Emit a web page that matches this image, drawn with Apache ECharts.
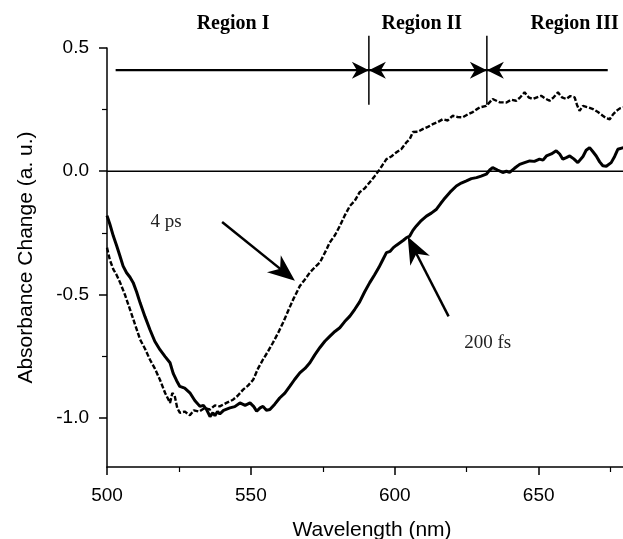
<!DOCTYPE html>
<html>
<head>
<meta charset="utf-8">
<script src="https://cdn.jsdelivr.net/npm/echarts@6/dist/echarts.min.js"></script>
<style>html,body{margin:0;padding:0;background:#fff}#c{width:623px;height:539px}</style>
</head>
<body>
<div id="c"></div>
<script>
// ---- data ----
const xTickLabels = [500, 550, 600, 650];
const xMinorTicks = [525, 575, 625, 675];
const yTickLabels = [-1.0, -0.5, 0.0, 0.5];
const yMinorTicks = [-0.75, -0.25, 0.25];

const series200fs = [
  [500,-0.18],[501,-0.215],[502.2,-0.263],[503.3,-0.3],[504.5,-0.344],[505.6,-0.385],[506.8,-0.412],
  [508,-0.43],[509.1,-0.452],[510.3,-0.49],[511.5,-0.534],[513.2,-0.59],[514.9,-0.642],
  [516.6,-0.69],[518.4,-0.724],[520.2,-0.752],[521.9,-0.777],[523,-0.82],[524.2,-0.85],[525.3,-0.873],
  [527,-0.88],[528.8,-0.899],[530.5,-0.93],[532.3,-0.954],[533.5,-0.95],
  [534.6,-0.967],[535.8,-0.995],[536.8,-0.98],[537.5,-0.992],[538.4,-0.975],[539.2,-0.985],[540.5,-0.97],
  [542.7,-0.96],[544.4,-0.955],[546.2,-0.94],[548,-0.95],
  [549.7,-0.94],[551,-0.955],[552,-0.974],[553.2,-0.96],[554.2,-0.954],[555.4,-0.97],[556.6,-0.967],
  [558.3,-0.945],[560,-0.92],[561.8,-0.9],[563.5,-0.873],[565.2,-0.845],
  [567,-0.818],[568.8,-0.8],[570.5,-0.777],[572.2,-0.745],[574,-0.715],[575.7,-0.69],[577.4,-0.67],
  [579.2,-0.65],[580.9,-0.635],[582.6,-0.61],[584.4,-0.588],[586.1,-0.56],
  [587.8,-0.53],[589.5,-0.49],[591.3,-0.452],[593,-0.42],[594.5,-0.39],[595.8,-0.36],[597.1,-0.33],
  [598.4,-0.325],[599.5,-0.31],[600.6,-0.3],[601.8,-0.29],[603,-0.28],[604,-0.27],[605.2,-0.263],
  [606.3,-0.24],[607.5,-0.222],[609.2,-0.2],[611,-0.182],[612.7,-0.17],[614.5,-0.154],[616,-0.13],
  [617,-0.115],[619.2,-0.085],[621.4,-0.06],[623.1,-0.048],[624.9,-0.039],[626.6,-0.03],
  [628.4,-0.026],[630,-0.02],[631.8,-0.012],[633,0.005],[634,0.015],[635.7,0.005],[637.5,-0.005],
  [638.8,0.0],[639.9,-0.005],[641.6,0.012],[643.4,0.028],[645.1,0.035],
  [646.9,0.042],[648.5,0.04],[650.3,0.049],[651.5,0.045],[652.7,0.062],[654.4,0.07],[656.1,0.083],
  [657.3,0.07],[658.4,0.049],[659.6,0.055],[660.8,0.062],[662.2,0.05],
  [663.6,0.035],[665.4,0.06],[666.5,0.085],[667.7,0.096],[668.8,0.08],[670,0.062],[671.2,0.038],
  [672.3,0.022],[673.5,0.02],[675.2,0.035],[676.4,0.06],[677.5,0.089],[679.5,0.096]
];
const series4ps = [
  [500,-0.31],[501,-0.36],[502.2,-0.398],[503.3,-0.42],[504.5,-0.45],[506.2,-0.5],[508,-0.561],
  [509.7,-0.62],[511.5,-0.683],[513.2,-0.72],[514.9,-0.764],[516.6,-0.8],
  [518.4,-0.846],[520.2,-0.9],[521.9,-0.94],[522.7,-0.9],[523.5,-0.91],[524.4,-0.96],[525.3,-0.98],
  [527,-0.975],[528.8,-0.99],[530.2,-0.97],[532,-0.975],[534,-0.96],
  [535.8,-0.967],[537.5,-0.95],[539.2,-0.954],[541.5,-0.94],[543.8,-0.927],[545.5,-0.91],
  [547.3,-0.886],[549,-0.87],[550.8,-0.846],[552.5,-0.8],[554.2,-0.764],[556,-0.73],
  [557.7,-0.695],[559.5,-0.655],[561.2,-0.614],[563,-0.565],[564.7,-0.52],[567,-0.466],
  [568.7,-0.44],[570.5,-0.411],[572.2,-0.39],[574,-0.37],
  [576.3,-0.317],[577.4,-0.289],[579.2,-0.26],[580.9,-0.222],[582.6,-0.18],[584.4,-0.141],
  [586.1,-0.12],[587.8,-0.085],[589.5,-0.07],[591.3,-0.045],[593,-0.02],
  [594.8,0.008],[596,0.03],[597.1,0.049],[598.8,0.06],[600.6,0.077],[602.3,0.09],[604.1,0.118],
  [605.2,0.13],[606.3,0.159],[608,0.16],[609.7,0.171],[611.5,0.18],
  [613.2,0.191],[615,0.2],[616.7,0.211],[618.4,0.206],[620.1,0.225],[621.8,0.22],[623.6,0.219],
  [625.3,0.23],[627.1,0.24],[628.3,0.25],[629.5,0.259],
  [631.8,0.265],[634,0.293],[636.4,0.28],[638.8,0.279],[640.5,0.29],[642.2,0.286],[643.6,0.3],
  [645.1,0.32],[646.5,0.3],[647.9,0.293],[649.4,0.3],
  [650.9,0.306],[652.3,0.295],[653.8,0.286],[655.2,0.3],[656.7,0.32],[658.1,0.3],[659.6,0.293],
  [661,0.305],[662.5,0.3],[663.3,0.27],[664.2,0.245],
  [665.4,0.265],[667,0.26],[668.9,0.252],[670.6,0.24],[672.3,0.225],[673.5,0.215],[674.7,0.211],
  [675.8,0.23],[677,0.245],[678.2,0.255],[679.5,0.259]
];

// annotations (data coordinates)
const regionLineLevel = 0.41;
const regionSegments = [[503, 591, 'end'], [591, 632, 'both'], [632, 674, 'start']];
const regionDividers = [591, 632];
const dividerRange = [0.27, 0.55];
const regionLabels = [['Region I', 543.8, 0.6], ['Region II', 609.4, 0.6], ['Region III', 662.5, 0.6]];
const timeArrows = [
  { from: [540, -0.206], to: [565.3, -0.444] },
  { from: [618.7, -0.589], to: [604.5, -0.266] }
];
const timeLabels = [['4 ps', 520.5, -0.207], ['200 fs', 632.3, -0.695]];

const chart = echarts.init(document.getElementById('c'), null, { renderer: 'canvas' });

function arrowHead(tip, from, L, W, notch) {
  const dx = tip[0] - from[0], dy = tip[1] - from[1];
  const len = Math.sqrt(dx * dx + dy * dy);
  const ux = dx / len, uy = dy / len, px = -uy, py = ux;
  const bx = tip[0] - ux * L, by = tip[1] - uy * L;
  return [
    [tip[0], tip[1]],
    [bx + px * W, by + py * W],
    [tip[0] - ux * (L - notch), tip[1] - uy * (L - notch)],
    [bx - px * W, by - py * W]
  ];
}

function renderAnnotations(params, api) {
  const children = [];
  const black = '#000';
  const z0 = api.coord([500, 0]), z1 = api.coord([680, 0]);
  children.push({ type: 'line', shape: { x1: z0[0], y1: z0[1], x2: z1[0], y2: z1[1] }, style: { stroke: black, lineWidth: 1.4 } });
  regionSegments.forEach(s => {
    const a = api.coord([s[0], regionLineLevel]), b = api.coord([s[1], regionLineLevel]);
    children.push({ type: 'line', shape: { x1: a[0], y1: a[1], x2: b[0], y2: b[1] }, style: { stroke: black, lineWidth: 2.2 } });
    if (s[2] === 'end' || s[2] === 'both') children.push({ type: 'polygon', shape: { points: arrowHead(b, a, 17, 8.5, 5) }, style: { fill: black } });
    if (s[2] === 'start' || s[2] === 'both') children.push({ type: 'polygon', shape: { points: arrowHead(a, b, 17, 8.5, 5) }, style: { fill: black } });
  });
  regionDividers.forEach(x => {
    const a = api.coord([x, dividerRange[0]]), b = api.coord([x, dividerRange[1]]);
    children.push({ type: 'line', shape: { x1: a[0], y1: a[1], x2: b[0], y2: b[1] }, style: { stroke: black, lineWidth: 1.5 } });
  });
  regionLabels.forEach(l => {
    const p = api.coord([l[1], l[2]]);
    children.push({ type: 'text', x: p[0], y: p[1], style: { text: l[0], align: 'center', verticalAlign: 'middle', fill: '#000', font: 'bold 20px "Liberation Serif", "Times New Roman", serif' } });
  });
  timeArrows.forEach(t => {
    const a = api.coord(t.from), b = api.coord(t.to);
    const dx = b[0] - a[0], dy = b[1] - a[1], len = Math.sqrt(dx * dx + dy * dy);
    const e = [b[0] - dx / len * 14, b[1] - dy / len * 14];
    children.push({ type: 'line', shape: { x1: a[0], y1: a[1], x2: e[0], y2: e[1] }, style: { stroke: black, lineWidth: 2.5 } });
    children.push({ type: 'polygon', shape: { points: arrowHead(b, a, 27, 11, 8) }, style: { fill: black } });
  });
  timeLabels.forEach(l => {
    const p = api.coord([l[1], l[2]]);
    children.push({ type: 'text', x: p[0], y: p[1], style: { text: l[0], align: 'center', verticalAlign: 'middle', fill: '#222', font: '19px "Liberation Serif", "Times New Roman", serif' } });
  });
  return { type: 'group', children };
}

const sansFont = '"Liberation Sans", Arial, sans-serif';

const option = {
  animation: false,
  backgroundColor: '#fff',
  grid: { left: 107, top: 48, right: -2, bottom: 72, containLabel: false, outerBoundsMode: 'none' },
  xAxis: [
    {
      type: 'value', min: 500, max: 680, position: 'bottom',
      name: 'Wavelength (nm)', nameLocation: 'middle', nameGap: 53,
      nameTextStyle: { fontFamily: sansFont, fontSize: 21, color: '#000', padding: [0, 0, 0, 12] },
      axisLine: { show: true, onZero: false, lineStyle: { color: '#000', width: 1.5 } },
      axisTick: { show: true, length: 8, inside: false, customValues: xTickLabels, lineStyle: { color: '#000', width: 1.5 } },
      axisLabel: { customValues: xTickLabels, margin: 19, fontFamily: sansFont, fontSize: 19, color: '#000' },
      splitLine: { show: false }
    },
    {
      type: 'value', min: 500, max: 680, position: 'bottom', offset: 0,
      axisLine: { show: false, onZero: false },
      axisTick: { show: true, length: 5, customValues: xMinorTicks, lineStyle: { color: '#000', width: 1.2 } },
      axisLabel: { show: false },
      splitLine: { show: false }
    }
  ],
  yAxis: [
    {
      type: 'value', min: -1.2, max: 0.5, position: 'left',
      name: 'Absorbance Change (a. u.)', nameLocation: 'middle', nameGap: 70,
      nameTextStyle: { fontFamily: sansFont, fontSize: 21, color: '#000' },
      axisLine: { show: true, onZero: false, lineStyle: { color: '#000', width: 1.5 } },
      axisTick: { show: true, length: 8, customValues: yTickLabels, lineStyle: { color: '#000', width: 1.5 } },
      axisLabel: { customValues: yTickLabels, margin: 18, fontFamily: sansFont, fontSize: 19, color: '#000', formatter: v => v.toFixed(1) },
      splitLine: { show: false }
    },
    {
      type: 'value', min: -1.2, max: 0.5, position: 'left', offset: 0,
      axisLine: { show: false, onZero: false },
      axisTick: { show: true, length: 5, customValues: yMinorTicks, lineStyle: { color: '#000', width: 1.2 } },
      axisLabel: { show: false },
      splitLine: { show: false }
    }
  ],
  series: [
    {
      name: '200 fs', type: 'line', data: series200fs, showSymbol: false, symbol: 'none',
      lineStyle: { color: '#000', width: 3 }, xAxisIndex: 0, yAxisIndex: 0, clip: false
    },
    {
      name: '4 ps', type: 'line', data: series4ps, showSymbol: false, symbol: 'none',
      lineStyle: { color: '#000', width: 2.4, type: [5, 2] }, xAxisIndex: 0, yAxisIndex: 0, clip: false
    },
    {
      type: 'custom', xAxisIndex: 0, yAxisIndex: 0, clip: false, silent: true,
      data: [[500, 0]], renderItem: renderAnnotations, z: 5
    }
  ]
};
chart.setOption(option);
</script>
</body>
</html>
